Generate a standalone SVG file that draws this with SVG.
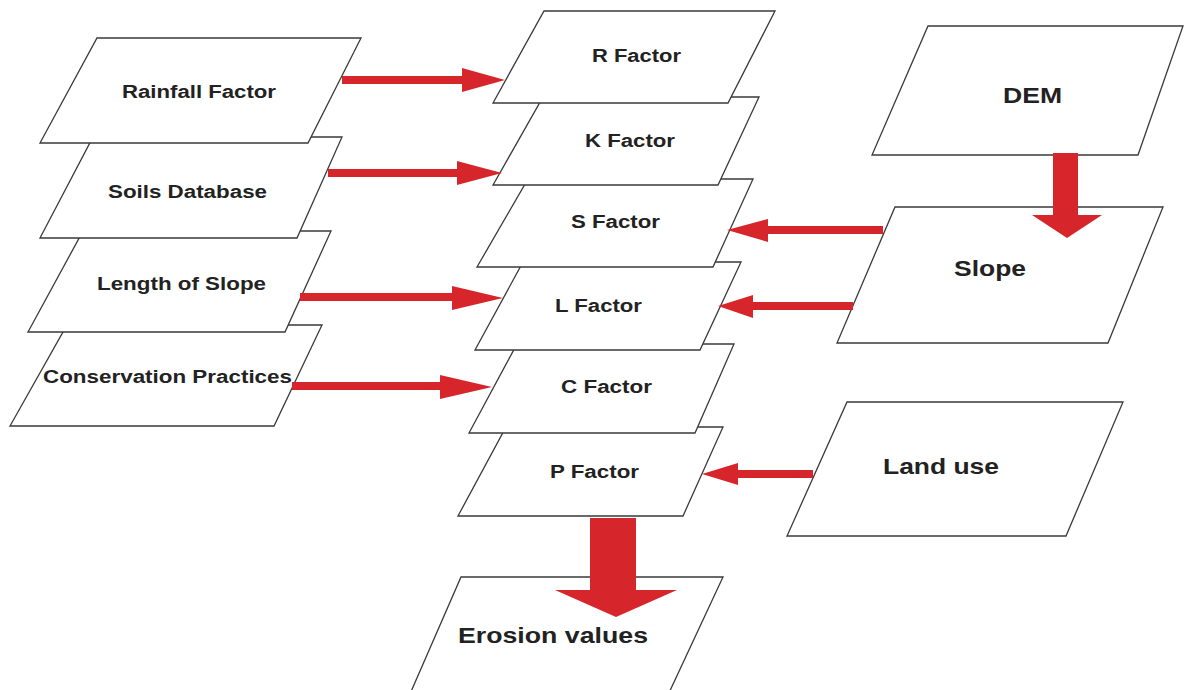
<svg xmlns="http://www.w3.org/2000/svg" width="1184" height="690" viewBox="0 0 1184 690">
<style>
.n{fill:#fff;stroke:#3a3a3a;stroke-width:1.3;stroke-linejoin:miter}
.t{font-family:"Liberation Sans",Arial,sans-serif;font-weight:bold;fill:#222;text-anchor:middle}
.s{font-size:18px}
.b{font-size:22px}
.a{fill:#d7262b;stroke:none}
</style>
<rect width="1184" height="690" fill="#fff"/>
<g id="left-column">
<g id="conservation"><polygon class="n" points="67,325 322,325 274,426 10,426"/><text class="t s" x="167.5" y="383" textLength="249" lengthAdjust="spacingAndGlyphs">Conservation Practices</text></g>
<g id="length"><polygon class="n" points="83,231 331,231 285,332 28,332"/><text class="t s" x="181.5" y="290" textLength="169" lengthAdjust="spacingAndGlyphs">Length of Slope</text></g>
<g id="soils"><polygon class="n" points="93,137 342,137 297,238 40,238"/><text class="t s" x="187.5" y="198" textLength="159" lengthAdjust="spacingAndGlyphs">Soils Database</text></g>
<g id="rainfall"><polygon class="n" points="97,38 361,38 308,143 40,143"/><text class="t s" x="199" y="98" textLength="154" lengthAdjust="spacingAndGlyphs">Rainfall Factor</text></g>
</g>
<g id="middle-column">
<g id="p-factor"><polygon class="n" points="506,427 723,427 683,516 458,516"/><text class="t s" x="594.5" y="478" textLength="89" lengthAdjust="spacingAndGlyphs">P Factor</text></g>
<g id="c-factor"><polygon class="n" points="517,344 734,344 695,433 469,433"/><text class="t s" x="606.5" y="393" textLength="91" lengthAdjust="spacingAndGlyphs">C Factor</text></g>
<g id="l-factor"><polygon class="n" points="523,262 741,262 700,350 475,350"/><text class="t s" x="598.5" y="312" textLength="87" lengthAdjust="spacingAndGlyphs">L Factor</text></g>
<g id="s-factor"><polygon class="n" points="528,179 753,179 713,267 477,267"/><text class="t s" x="615.5" y="228" textLength="89" lengthAdjust="spacingAndGlyphs">S Factor</text></g>
<g id="k-factor"><polygon class="n" points="543,97 759,97 718,185 493,185"/><text class="t s" x="630" y="147" textLength="90" lengthAdjust="spacingAndGlyphs">K Factor</text></g>
<g id="r-factor"><polygon class="n" points="544,11 775,11 728,103 493,103"/><text class="t s" x="636.5" y="62" textLength="89" lengthAdjust="spacingAndGlyphs">R Factor</text></g>
</g>
<g id="dem"><polygon class="n" points="928,26 1183,26 1138,155 872,155"/><text class="t b" x="1032.5" y="103" textLength="59" lengthAdjust="spacingAndGlyphs">DEM</text></g>
<g id="slope"><polygon class="n" points="895,207 1163,207 1108,343 837,343"/><text class="t b" x="990" y="276" textLength="72" lengthAdjust="spacingAndGlyphs">Slope</text></g>
<g id="landuse"><polygon class="n" points="847,402 1123,402 1066,536 787,536"/><text class="t b" x="941" y="474" textLength="116" lengthAdjust="spacingAndGlyphs">Land use</text></g>
<g id="erosion"><polygon class="n" points="461,577 723,577 661,710 403,710"/><text class="t b" x="553" y="643" textLength="190" lengthAdjust="spacingAndGlyphs">Erosion values</text></g>
<g id="connectors">
<polygon class="a" points="342,76 462,76 462,68 505,80 462,92 462,84 342,84"/>
<polygon class="a" points="328,169 457,169 457,161 502,173 457,185 457,177 328,177"/>
<polygon class="a" points="300,293 452,293 452,286 503,298 452,310 452,301 300,301"/>
<polygon class="a" points="292,382 440,382 440,375 492,387 440,399 440,390 292,390"/>
<polygon class="a" points="883,226 768,226 768,219 727,230 768,242 768,234 883,234"/>
<polygon class="a" points="853,302 753,302 753,295 718,306 753,318 753,310 853,310"/>
<polygon class="a" points="813,470 738,470 738,463 702,474 738,485 738,478 813,478"/>
<polygon class="a" points="1053,153 1078,153 1078,215 1102,215 1067,238 1032,215 1053,215"/>
<polygon class="a" points="590,518 636,518 636,590 677,590 616,617 555,590 590,590"/>
</g>
</svg>
